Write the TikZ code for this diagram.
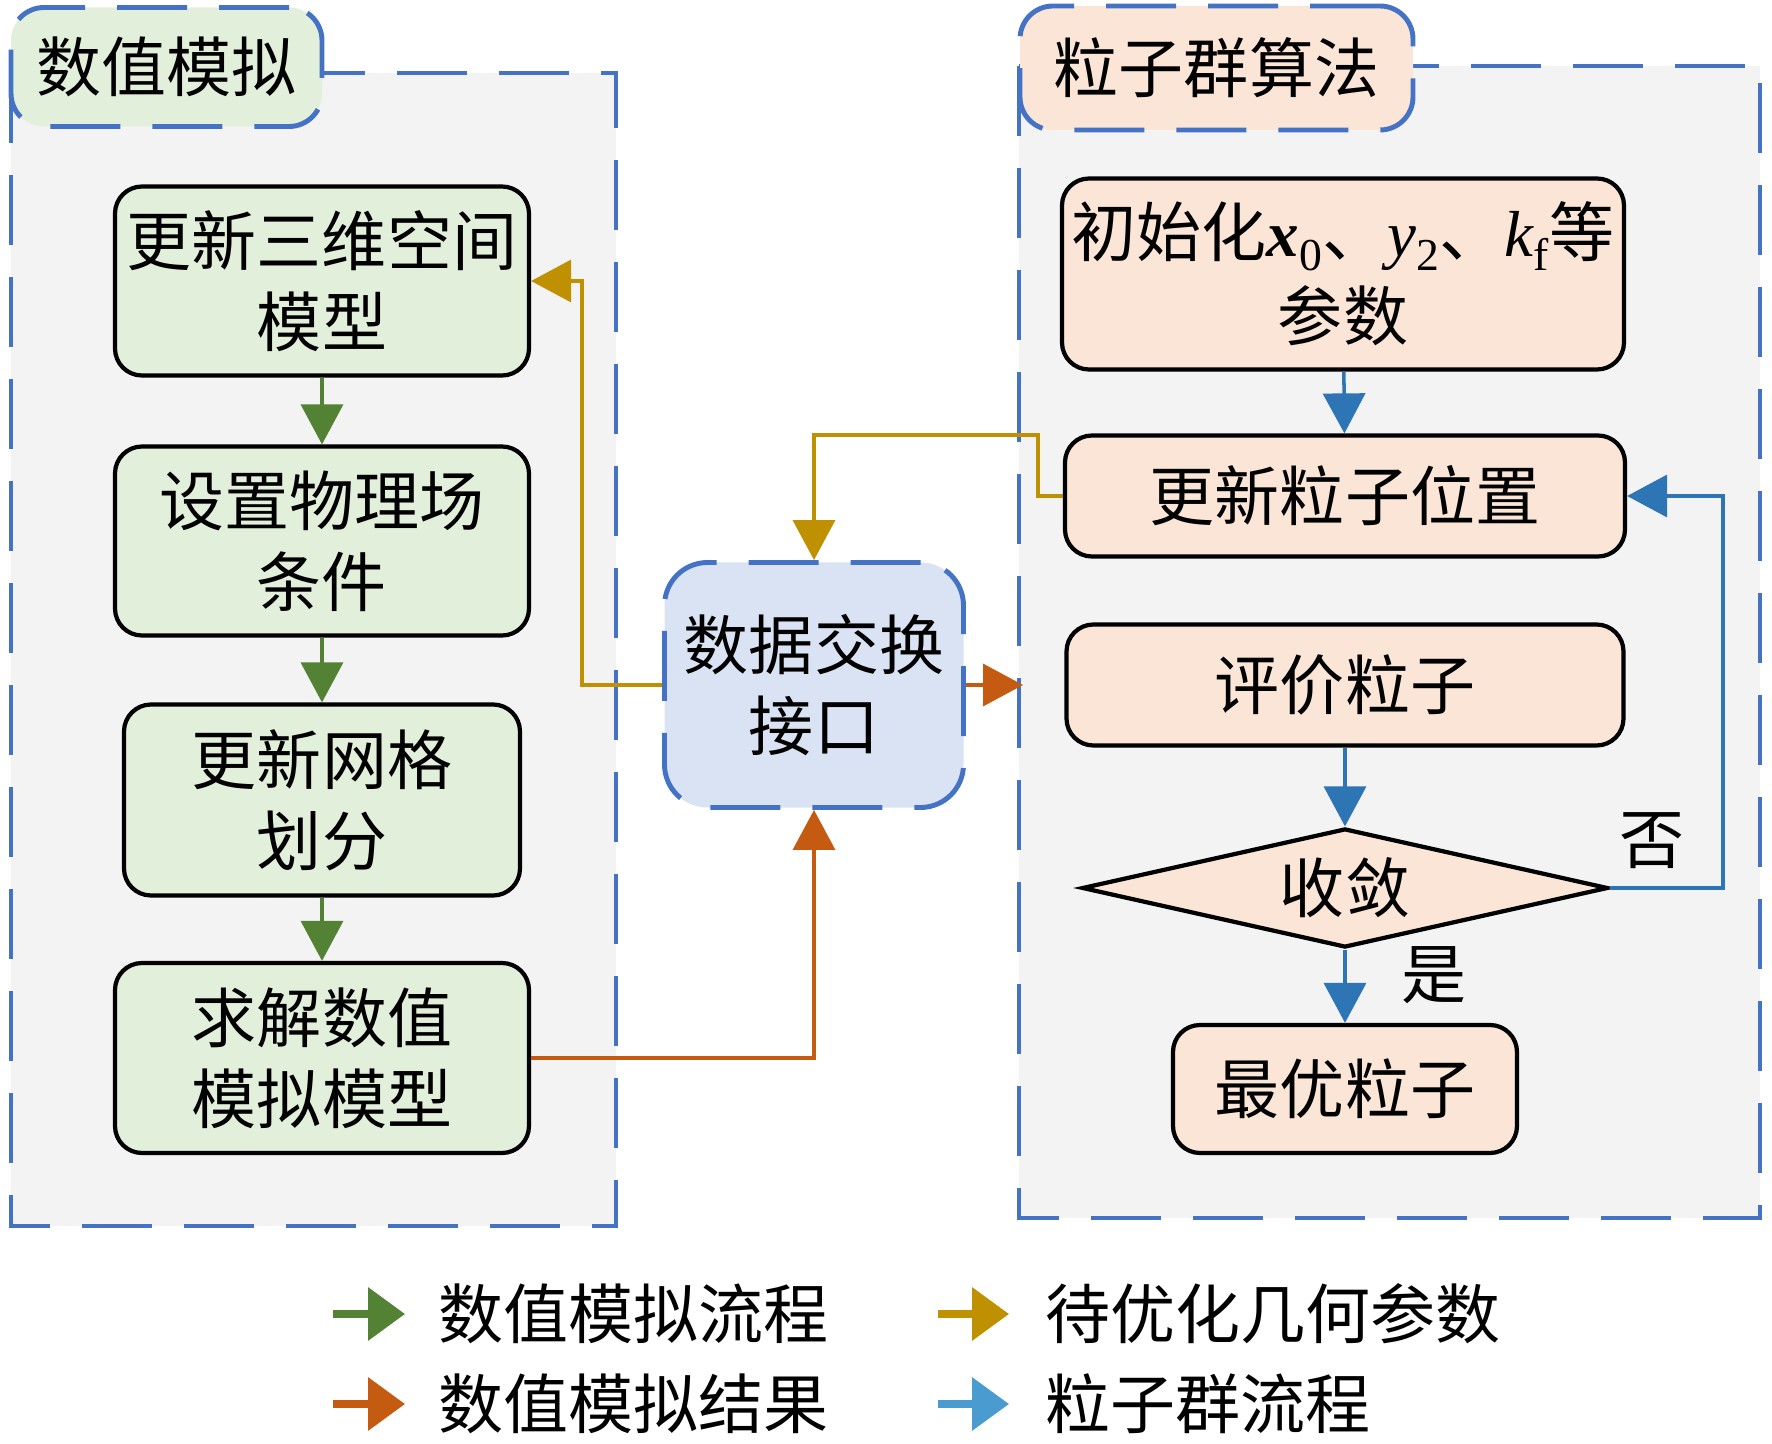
\documentclass[tikz,border=0pt]{standalone}
\usepackage{fontspec}
\setmainfont{Noto Sans CJK SC}
\newfontfamily\tnr{Liberation Serif}
\usepackage{xcolor}
\usepackage{tikz}
\usetikzlibrary{arrows.meta,shapes.geometric,positioning,calc}
\definecolor{simgreen}{HTML}{548235}
\definecolor{resorange}{HTML}{C55A11}
\definecolor{geogold}{HTML}{BF9000}
\definecolor{psoblue}{HTML}{2E75B6}
\definecolor{legblue}{HTML}{4A9CD0}
\definecolor{dashblue}{HTML}{4472C4}
\definecolor{panelgray}{HTML}{F3F3F3}
\definecolor{simfill}{HTML}{E2EFDA}
\definecolor{psofill}{HTML}{FBE5D6}
\definecolor{datafill}{HTML}{DAE3F3}
\newcommand{\zhsize}{\fontsize{18.5pt}{23pt}\selectfont}
\newcommand{\lowsub}[1]{\raisebox{-0.22em}{\fontsize{13pt}{13pt}\selectfont\tnr #1}}
\tikzset{
	>={Triangle[length=4mm,width=4.2mm]},
	bluedash/.style={draw=dashblue, line width=1.4pt, dash pattern=on 7mm off 3.2mm},
	panel/.style={bluedash, fill=panelgray},
	tab/.style={bluedash, rounded corners=3.3mm, inner sep=0pt, font=\zhsize},
	simbox/.style={draw=black, line width=1.2pt, fill=simfill, rounded corners=2.7mm,
		align=center, inner sep=0.5mm, font=\zhsize},
	psobox/.style={simbox, fill=psofill},
	flow/.style={->, line width=1pt},
	flowlabel/.style={inner sep=0pt, font=\zhsize, text=black},
	legarrow/.style={-{Triangle[length=3.7mm,width=5.2mm]}, line width=2pt},
	legtext/.style={anchor=west, inner sep=0pt, font=\zhsize}
}

\begin{document}
\begin{tikzpicture}[x=1mm,y=-1mm]
	\useasboundingbox (0,0) rectangle (177.2,144.4);
	% dashed panels with title tabs
	\draw[panel] (1.1,7.3) rectangle (61.6,122.6);
	\draw[panel] (101.9,6.6) rectangle (176.0,121.8);
	\node[tab, fill=simfill, minimum width=31.1mm, minimum height=11.9mm] (simtab) at (16.65,6.7) {数值模拟};
	\node[tab, fill=psofill, minimum width=39.3mm, minimum height=12.4mm] (psotab) at (121.65,6.8) {粒子群算法};
	
	% numerical simulation steps
	\node[simbox, minimum width=41.4mm, minimum height=18.9mm] (model) at (32.2,28.1) {更新三维空间\\模型};
	\node[simbox, minimum width=41.4mm, minimum height=18.9mm] (field) at (32.2,54.1) {设置物理场\\条件};
	\node[simbox, minimum width=39.6mm, minimum height=19.1mm] (mesh) at (32.2,80.0) {更新网格\\划分};
	\node[simbox, minimum width=41.4mm, minimum height=19.0mm] (solve) at (32.2,105.8) {求解数值\\模拟模型};
	
	% data exchange interface
	\node[bluedash, fill=datafill, rounded corners=4.3mm, align=center, inner sep=0.5mm, font=\zhsize,
		minimum width=29.9mm, minimum height=24.5mm] (data) at (81.4,68.5) {数据交换\\接口};
	\coordinate (dataout) at (102.3,68.5);
	
	% particle swarm steps
	\node[psobox, minimum width=56.2mm, minimum height=19.1mm] (init) at (134.3,27.4)
		{初始化{\tnr\textbf{\textit{x}}}\lowsub{0}、{\tnr\textit{y}}\lowsub{2}、{\tnr\textit{k}}\lowsub{f}等\\[1pt]参数};
	\node[psobox, minimum width=56.0mm, minimum height=12.1mm] (update) at (134.5,49.6) {更新粒子位置};
	\node[psobox, minimum width=55.7mm, minimum height=12.1mm] (eval) at (134.5,68.5) {评价粒子};
	\node[draw=black, line width=1.2pt, fill=psofill, shape=diamond, aspect=4.4, inner sep=0pt, font=\zhsize,
		minimum width=52.6mm, minimum height=11.9mm] (conv) at (134.5,88.8) {收敛};
	\node[psobox, minimum width=34.4mm, minimum height=12.8mm] (best) at (134.5,108.9) {最优粒子};
	
	% connectors
	\draw[flow, simgreen] (model) -- (field);
	\draw[flow, simgreen] (field) -- (mesh);
	\draw[flow, simgreen] (mesh) -- (solve);
	\draw[flow, resorange] (solve.east) -| (data.south);
	\draw[flow, resorange] (data.east) -- (dataout);
	\draw[flow, geogold] (data.west) -- ++(-8,0) |- (model.east);
	\draw[flow, geogold] (update.west) -- ++(-2.5,0) -- ++(0,-6.1) -| (data.north);
	\draw[flow, psoblue] (init) -- (update);
	\draw[flow, psoblue] (eval) -- (conv);
	\draw[flow, psoblue] (conv) -- (best) node[flowlabel, pos=0.35, right=5.5mm] (yes) {是};
	\draw[flow, psoblue] (conv.east) -- ++(11.3,0) node[flowlabel, pos=0.37, above=1.8mm] (no) {否} |- (update.east);
	
	% legend
	\coordinate (lg1) at (33.3,131.4); \coordinate (lg1e) at (40.5,131.4);
	\coordinate (lg2) at (33.3,140.4); \coordinate (lg2e) at (40.5,140.4);
	\coordinate (lg3) at (93.8,131.4); \coordinate (lg3e) at (100.9,131.4);
	\coordinate (lg4) at (93.8,140.4); \coordinate (lg4e) at (100.9,140.4);
	\draw[legarrow, simgreen] (lg1) -- (lg1e);
	\draw[legarrow, resorange] (lg2) -- (lg2e);
	\draw[legarrow, geogold] (lg3) -- (lg3e);
	\draw[legarrow, legblue] (lg4) -- (lg4e);
	\node[legtext] (leg1) at (43.8,131.4) {数值模拟流程};
	\node[legtext] (leg2) at (43.8,140.4) {数值模拟结果};
	\node[legtext] (leg3) at (104.5,131.4) {待优化几何参数};
	\node[legtext] (leg4) at (104.5,140.4) {粒子群流程};
\end{tikzpicture}
\end{document}
